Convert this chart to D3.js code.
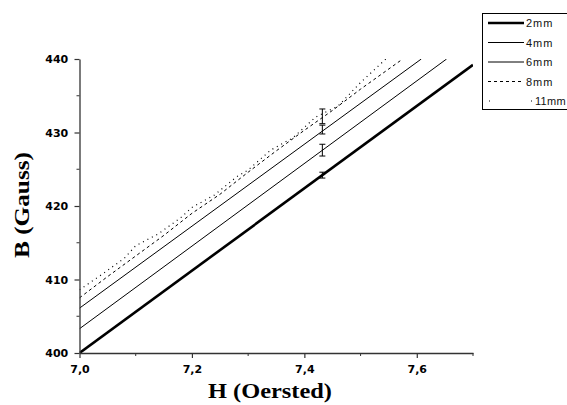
<!DOCTYPE html>
<html>
<head>
<meta charset="utf-8">
<script src="https://cdn.jsdelivr.net/npm/d3@7"></script>
<style>
  body { margin: 0; background: #fff; }
  svg { display: block; }
</style>
</head>
<body>
<svg id="chart" width="567" height="405"></svg>
<script>
(function() {

  // data
  var seriesNames = ['2mm', '4mm', '6mm', '8mm', '11mm'];
  var h2 = [7.0, 7.7];
  var b2 = [400.0, 439.2];
  var h4 = [7.0, 7.653];
  var b4 = [403.3, 440.0];
  var h6 = [7.0, 7.608];
  var b6 = [406.1, 440.0];
  var h8 = [7.0, 7.05, 7.10, 7.15, 7.20, 7.25, 7.30, 7.35, 7.40, 7.45, 7.50, 7.575];
  var b8 = [407.5, 410.4, 413.2, 416.0, 419.0, 421.6, 424.6, 427.5, 430.3, 433.0, 435.9, 440.0];
  var h11 = [7.0, 7.04, 7.08, 7.10, 7.14, 7.18, 7.20, 7.24, 7.28, 7.30, 7.34, 7.38, 7.42, 7.46, 7.50, 7.545];
  var b11 = [408.6, 410.7, 412.9, 414.6, 416.2, 418.4, 419.8, 421.5, 424.0, 424.9, 427.6, 429.3, 432.1, 433.6, 436.8, 440.0];

  // error bars at H = 7.43
  var errH = [7.432, 7.432, 7.432, 7.432];
  var errB = [424.2, 427.6, 430.4, 432.2];
  var errD = [0.4, 0.8, 0.6, 1.0];

  var xTicks = [7.0, 7.2, 7.4, 7.6];
  var xMinor = [7.1, 7.3, 7.5, 7.7];
  var yTicks = [400, 410, 420, 430, 440];
  var yMinor = [405, 415, 425, 435];

  var widths = [2.6, 1, 1, 1, 1.2];
  var dashes = [null, null, null, '3,3', '1,4'];

  var svg = d3.select('#chart');
  var left = 79.5, right = 473, top = 59, bottom = 353;

  var x = d3.scaleLinear().domain([7.0, 7.7]).range([left, right]);
  var y = d3.scaleLinear().domain([400, 440]).range([bottom, top]);

  svg.append('clipPath').attr('id', 'plot')
    .append('rect')
    .attr('x', left).attr('y', top)
    .attr('width', right - left).attr('height', bottom - top);

  var series = [[h2, b2], [h4, b4], [h6, b6], [h8, b8], [h11, b11]];
  var line = d3.line()
    .x(function(d) { return x(d[0]); })
    .y(function(d) { return y(d[1]); });

  var g = svg.append('g').attr('clip-path', 'url(#plot)');
  series.forEach(function(s, i) {
    var pts = s[0].map(function(v, k) { return [v, s[1][k]]; });
    g.append('path')
      .attr('d', line(pts))
      .attr('fill', 'none')
      .attr('stroke', '#000')
      .attr('stroke-width', widths[i])
      .attr('stroke-dasharray', dashes[i]);
  });

  // error bars
  errH.forEach(function(hv, i) {
    var cx = x(hv), y1 = y(errB[i] + errD[i]), y2 = y(errB[i] - errD[i]);
    svg.append('line').attr('x1', cx).attr('x2', cx).attr('y1', y1).attr('y2', y2)
      .attr('stroke', '#000').attr('stroke-width', 1);
    [y1, y2].forEach(function(yy) {
      svg.append('line').attr('x1', cx - 3).attr('x2', cx + 3).attr('y1', yy).attr('y2', yy)
        .attr('stroke', '#000').attr('stroke-width', 1);
    });
  });

  // axes
  var fmt = function(d) { return d3.format('.1f')(d).replace('.', ','); };
  var xAxis = svg.append('g').attr('transform', 'translate(0,' + bottom + ')')
    .call(d3.axisBottom(x).tickValues(xTicks).tickFormat(fmt).tickSize(5).tickSizeOuter(0));
  xAxis.append('g').selectAll('line').data(xMinor).enter().append('line')
    .attr('x1', function(d) { return x(d); }).attr('x2', function(d) { return x(d); })
    .attr('y1', 0).attr('y2', 3).attr('stroke', '#333');

  var yAxis = svg.append('g').attr('transform', 'translate(' + left + ',0)')
    .call(d3.axisLeft(y).tickValues(yTicks).tickSize(5).tickSizeOuter(0));
  yAxis.append('g').selectAll('line').data(yMinor).enter().append('line')
    .attr('y1', function(d) { return y(d); }).attr('y2', function(d) { return y(d); })
    .attr('x1', 0).attr('x2', -3).attr('stroke', '#333');

  svg.selectAll('.domain').attr('stroke', '#333').attr('stroke-width', 1.3);
  svg.selectAll('.tick line').attr('stroke', '#333').attr('stroke-width', 1.2);
  svg.selectAll('.tick text')
    .attr('font-family', 'DejaVu Sans, sans-serif')
    .attr('font-weight', 'bold')
    .attr('font-size', 11)
    .attr('fill', '#000');
  xAxis.selectAll('.tick text').attr('dy', '1.05em');
  yAxis.selectAll('.tick text').attr('dx', '-0.3em');

  // axis titles
  svg.append('text')
    .attr('x', 270).attr('y', 398)
    .attr('text-anchor', 'middle')
    .attr('font-family', 'Liberation Serif, Times New Roman, serif')
    .attr('font-weight', 'bold').attr('font-size', 20)
    .attr('textLength', 124).attr('lengthAdjust', 'spacingAndGlyphs')
    .text('H (Oersted)');
  svg.append('text')
    .attr('transform', 'translate(29,205) rotate(-90)')
    .attr('text-anchor', 'middle')
    .attr('font-family', 'Liberation Serif, Times New Roman, serif')
    .attr('font-weight', 'bold').attr('font-size', 20)
    .attr('textLength', 106).attr('lengthAdjust', 'spacingAndGlyphs')
    .text('B (Gauss)');

  // legend
  var lg = svg.append('g');
  lg.append('rect')
    .attr('x', 482.5).attr('y', 13.5).attr('width', 100).attr('height', 96)
    .attr('fill', '#fff').attr('stroke', '#000').attr('stroke-width', 1);
  seriesNames.forEach(function(name, i) {
    var yy = 23 + i * 19.5;
    var dotted = dashes[i] === '1,4';
    lg.append('line')
      .attr('x1', dotted ? 489 : 488).attr('x2', dotted ? 532 : 524).attr('y1', yy).attr('y2', yy)
      .attr('stroke', '#000')
      .attr('stroke-width', widths[i])
      .attr('stroke-dasharray', dotted ? '1,41' : dashes[i]);
    lg.append('text')
      .attr('x', dotted ? 535 : 526).attr('y', yy + 4)
      .attr('font-family', 'Liberation Sans, Arial, sans-serif')
      .attr('font-size', 11)
      .attr('letter-spacing', dotted ? 0.3 : 1)
      .attr('fill', '#111')
      .text(name);
  });

})();
</script>
</body>
</html>
